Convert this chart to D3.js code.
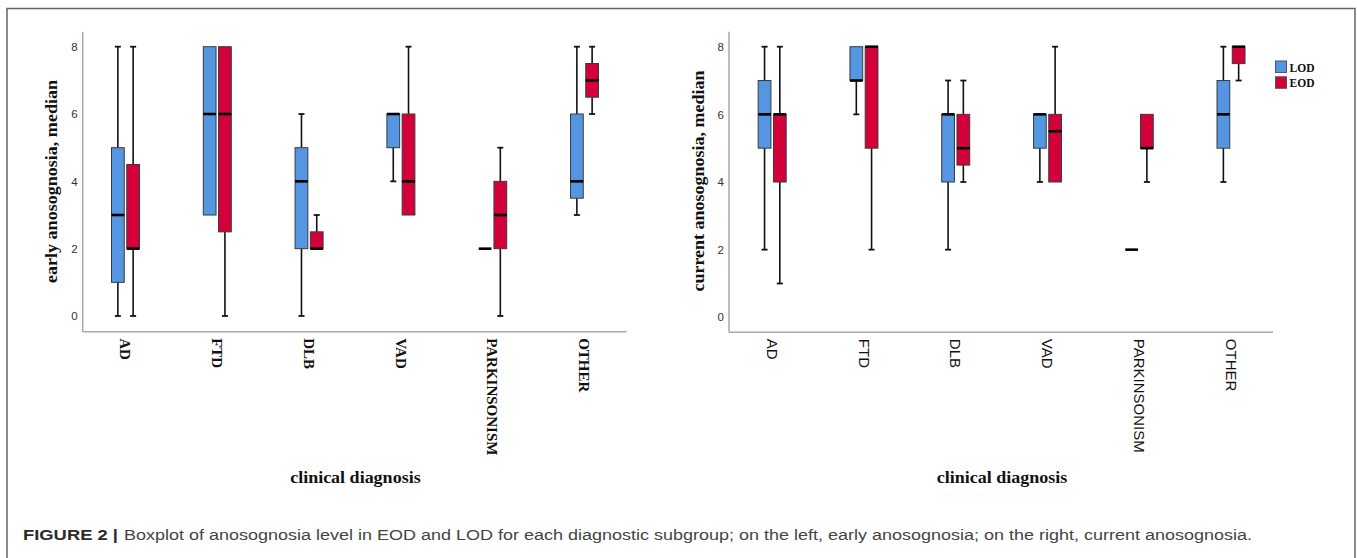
<!DOCTYPE html>
<html>
<head>
<meta charset="utf-8">
<script src="https://cdn.jsdelivr.net/npm/d3@7"></script>
<style>
  html, body { margin: 0; padding: 0; background: #fff; }
  svg { display: block; }
</style>
</head>
<body>
<svg id="chart" width="1357" height="558"></svg>
<script>
// ---- Data (min, q1, median, q3, max) ----
const categories = ["AD", "FTD", "DLB", "VAD", "PARKINSONISM", "OTHER"];
const groups = ["LOD", "EOD"];
const yTicks = [0, 2, 4, 6, 8];

const earlyLOD = [[0,1,3,5,8],[3,3,6,8,8],[0,2,4,5,6],[4,5,6,6,6],[2,2,2,2,2],[3,3.5,4,6,8]];
const earlyEOD = [[0,2,2,4.5,8],[0,2.5,6,8,8],[2,2,2,2.5,3],[3,3,4,6,8],[0,2,3,4,5],[6,6.5,7,7.5,8]];
const currentLOD = [[2,5,6,7,8],[6,7,7,8,8],[2,4,6,6,7],[4,5,6,6,6],[2,2,2,2,2],[4,5,6,7,8]];
const currentEOD = [[1,4,6,6,8],[2,5,8,8,8],[4,4.5,5,6,7],[4,4,5.5,6,8],[4,5,5,6,6],[7,7.5,8,8,8]];

const yTitleLeft = "early anosognosia, median";
const yTitleRight = "current anosognosia, median";
const xTitle = "clinical diagnosis";
const captionBold = "FIGURE 2 |";
const captionText = "Boxplot of anosognosia level in EOD and LOD for each diagnostic subgroup; on the left, early anosognosia; on the right, current anosognosia.";

const colors = { LOD: "#5596e2", EOD: "#d3003a" };

const svg = d3.select("#chart");

// frame
svg.append("rect").attr("x", 7).attr("y", 8.5).attr("width", 1348).attr("height", 560)
  .attr("fill", "none").attr("stroke", "#666").attr("stroke-width", 1.5);

function panel(opts) {
  const g = svg.append("g");
  const x = d3.scaleBand().domain(categories).range(opts.xRange).padding(0);
  const inner = d3.scaleBand().domain(groups).range([-14, 14]).paddingInner(0.165);
  const y = d3.scaleLinear().domain([0, 8]).range(opts.yRange);

  // axis lines
  g.append("line").attr("x1", opts.axisX).attr("x2", opts.axisX)
    .attr("y1", opts.axisTop).attr("y2", opts.axisY)
    .attr("stroke", "#a9a9a9").attr("stroke-width", 1.5);
  g.append("line").attr("x1", opts.axisX).attr("x2", opts.axisRight)
    .attr("y1", opts.axisY).attr("y2", opts.axisY)
    .attr("stroke", "#a9a9a9").attr("stroke-width", 1.5);

  // y axis labels
  const ya = g.append("g").attr("transform", `translate(${opts.axisX},0)`)
    .call(d3.axisLeft(y).tickValues(yTicks).tickSize(0).tickPadding(5));
  ya.select(".domain").remove();
  ya.selectAll("text").attr("font-family", "Liberation Sans, Arial, sans-serif")
    .attr("font-size", 11.5).attr("fill", "#333");

  // x axis labels
  const xa = g.append("g").attr("transform", `translate(0,${opts.axisY})`)
    .call(d3.axisBottom(x).tickSize(0));
  xa.select(".domain").remove();
  xa.selectAll("text")
    .attr("transform", "rotate(90)")
    .attr("x", 6.5).attr("y", 0).attr("dy", "0.35em")
    .attr("text-anchor", "start")
    .attr("font-family", opts.tickFont)
    .attr("font-weight", opts.tickWeight)
    .attr("font-size", 15).attr("fill", "#111");

  // boxes
  const series = [{ key: "LOD", data: opts.lod }, { key: "EOD", data: opts.eod }];
  series.forEach(s => {
    s.data.forEach((d, i) => {
      const [mn, q1, md, q3, mx] = d;
      const cx = x(categories[i]) + x.bandwidth() / 2 + inner(s.key) + inner.bandwidth() / 2;
      const bw = inner.bandwidth();
      const bg = g.append("g");
      const capW = 6;
      if (mx > q3) {
        bg.append("line").attr("x1", cx).attr("x2", cx).attr("y1", y(q3)).attr("y2", y(mx))
          .attr("stroke", "#111").attr("stroke-width", 1.6);
        bg.append("line").attr("x1", cx - capW / 2).attr("x2", cx + capW / 2).attr("y1", y(mx)).attr("y2", y(mx))
          .attr("stroke", "#111").attr("stroke-width", 1.8);
      }
      if (mn < q1) {
        bg.append("line").attr("x1", cx).attr("x2", cx).attr("y1", y(q1)).attr("y2", y(mn))
          .attr("stroke", "#111").attr("stroke-width", 1.6);
        bg.append("line").attr("x1", cx - capW / 2).attr("x2", cx + capW / 2).attr("y1", y(mn)).attr("y2", y(mn))
          .attr("stroke", "#111").attr("stroke-width", 1.8);
      }
      if (q3 > q1) {
        bg.append("rect").attr("x", cx - bw / 2).attr("y", y(q3)).attr("width", bw).attr("height", y(q1) - y(q3))
          .attr("fill", colors[s.key]).attr("stroke", "#3a3a3a").attr("stroke-width", 1);
      }
      bg.append("line").attr("x1", cx - bw / 2).attr("x2", cx + bw / 2).attr("y1", y(md)).attr("y2", y(md))
        .attr("stroke", "#000").attr("stroke-width", 2.6);
    });
  });

  // titles
  g.append("text")
    .attr("transform", `translate(${opts.yTitleX},${opts.yTitleY}) rotate(-90)`)
    .attr("text-anchor", "middle").attr("dominant-baseline", "central")
    .attr("font-family", "Liberation Serif, Times New Roman, serif").attr("font-weight", "bold")
    .attr("font-size", 17).attr("fill", "#111")
    .attr("textLength", opts.yTitleLen).attr("lengthAdjust", "spacingAndGlyphs")
    .text(opts.yTitle);
  g.append("text")
    .attr("x", opts.xTitleX).attr("y", 483)
    .attr("text-anchor", "middle")
    .attr("font-family", "Liberation Serif, Times New Roman, serif").attr("font-weight", "bold")
    .attr("font-size", 16.5).attr("fill", "#111")
    .attr("textLength", 130.5).attr("lengthAdjust", "spacingAndGlyphs")
    .text(xTitle);
}

panel({
  xRange: [79.6, 630.4], yRange: [316, 46.7],
  axisX: 82.7, axisRight: 626.7, axisTop: 31.7, axisY: 331.7,
  lod: earlyLOD, eod: earlyEOD,
  tickFont: "Liberation Serif, Times New Roman, serif", tickWeight: "bold",
  yTitle: yTitleLeft, yTitleX: 51.7, yTitleY: 181.5, yTitleLen: 203,
  xTitleX: 355.4
});

panel({
  xRange: [726.3, 1276.9], yRange: [317.3, 46.7],
  axisX: 729, axisRight: 1273, axisTop: 31.7, axisY: 332.3,
  lod: currentLOD, eod: currentEOD,
  tickFont: "Liberation Sans, Arial, sans-serif", tickWeight: "normal",
  yTitle: yTitleRight, yTitleX: 698.3, yTitleY: 181, yTitleLen: 221,
  xTitleX: 1002
});

// legend
const legend = svg.append("g");
const legendY = d3.scaleBand().domain(groups).range([61, 91]).paddingInner(0.1);
groups.forEach(k => {
  legend.append("rect").attr("x", 1275.5).attr("y", legendY(k)).attr("width", 11).attr("height", 11.5)
    .attr("fill", colors[k]).attr("stroke", "#555").attr("stroke-width", 1);
  legend.append("text").attr("x", 1289.5).attr("y", legendY(k) + 10.5)
    .attr("font-family", "Liberation Serif, Times New Roman, serif").attr("font-weight", "bold")
    .attr("font-size", 13).attr("fill", "#111")
    .attr("textLength", 25).attr("lengthAdjust", "spacingAndGlyphs")
    .text(k);
});

// caption
svg.append("text").attr("x", 23).attr("y", 540)
  .attr("font-family", "Liberation Sans, Arial, sans-serif").attr("font-weight", "bold")
  .attr("font-size", 15.5).attr("fill", "#2a2a2a")
  .attr("textLength", 95).attr("lengthAdjust", "spacingAndGlyphs")
  .text(captionBold);
svg.append("text").attr("x", 124).attr("y", 540)
  .attr("font-family", "Liberation Sans, Arial, sans-serif")
  .attr("font-size", 15.5).attr("fill", "#444")
  .attr("textLength", 1128).attr("lengthAdjust", "spacingAndGlyphs")
  .text(captionText);
</script>
</body>
</html>
